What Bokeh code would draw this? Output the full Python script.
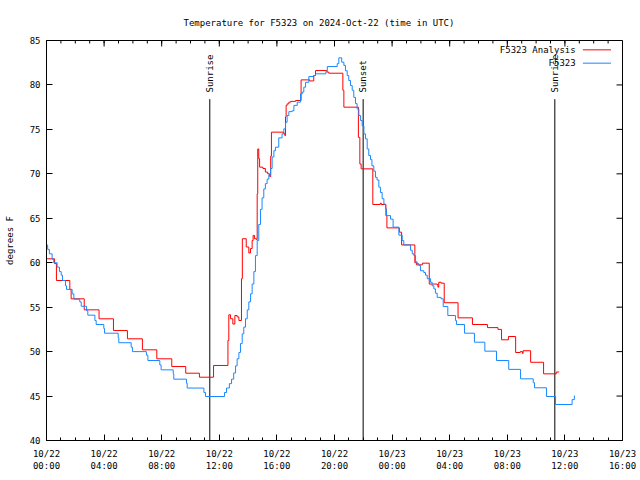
import numpy as np
from bokeh.plotting import figure
from bokeh.models import FixedTicker, Range1d
from bokeh.core.properties import value
from bokeh.embed import file_html
from bokeh.resources import INLINE

title_text = "Temperature for F5323 on 2024-Oct-22 (time in UTC)"
y_label = "degrees F"
series_names = ["F5323 Analysis", "F5323"]

# hours since 2024-10-22 00:00 UTC
obs_hours = [0.00, 0.08, 0.20, 0.39, 0.50, 0.74, 0.90, 1.02, 1.11, 1.32, 1.39, 1.78, 1.90, 2.31, 2.41,
             2.78, 2.87, 3.36, 3.45, 3.98, 4.03, 4.98, 5.02, 5.88, 5.97, 6.94, 7.04, 7.87, 7.96, 8.80,
             8.84, 9.72, 9.77, 10.93, 11.04, 12.36, 12.50, 12.70, 12.85, 13.00, 13.13, 13.24, 13.36,
             13.47, 13.59, 13.70, 13.82, 13.94, 14.05, 14.17, 14.28, 14.40, 14.51, 14.63, 14.74, 14.86,
             14.97, 15.09, 15.20, 15.32, 15.44, 15.56, 15.67, 15.79, 15.90, 16.13, 16.36, 16.48, 16.60,
             16.71, 16.83, 17.06, 17.18, 17.41, 17.64, 17.76, 17.87, 17.99, 18.22, 18.56, 18.68, 19.40,
             19.50, 20.19, 20.30, 20.50, 20.65, 20.76, 20.88, 20.99, 21.11, 21.23, 21.34, 21.46, 21.57,
             21.69, 21.81, 21.92, 22.04, 22.15, 22.27, 22.38, 22.50, 22.60, 22.73, 22.85, 22.96, 23.08,
             23.19, 23.31, 23.43, 23.54, 23.61, 23.89, 24.07, 24.47, 24.70, 24.81, 25.28, 25.40, 25.51,
             25.63, 25.74, 25.86, 25.97, 26.20, 26.32, 26.44, 26.67, 26.78, 26.90, 27.01, 27.13, 27.40,
             27.55, 27.87, 28.40, 28.47, 29.03, 29.72, 30.44, 31.25, 32.10, 32.92, 33.80, 33.89, 34.72,
             35.35, 36.50, 36.66]
obs_temp = [62.0, 61.5, 61.0, 60.4, 60.0, 59.5, 59.0, 58.6, 58.0, 57.4, 57.0, 56.5, 55.9, 55.6, 55.1,
            54.6, 54.1, 53.5, 53.05, 52.6, 52.07, 51.55, 51.0, 50.5, 50.0, 49.6, 49.0, 48.5, 47.95, 47.5,
            46.9, 46.45, 45.9, 45.4, 44.95, 45.4, 45.9, 46.4, 46.9, 47.6, 48.4, 49.2, 49.9,
            50.9, 52.0, 52.75, 53.7, 54.7, 55.6, 56.5, 57.6, 59.0, 60.8, 62.5, 64.3, 66.0,
            67.3, 68.3, 68.9, 69.4, 69.9, 70.6, 71.9, 72.6, 73.0, 74.05, 74.5, 75.06, 75.8,
            76.56, 77.0, 77.1, 77.7, 78.06, 79.0, 79.2, 79.75, 80.3, 80.95, 81.06, 81.25, 81.5,
            82.07, 82.4, 83.05, 82.56, 82.2, 81.6, 81.06, 80.5, 79.94, 79.4, 78.6, 77.9, 77.3,
            76.56, 76.0, 75.4, 74.5, 73.94, 72.8, 72.06, 71.6, 70.9, 70.3, 69.6, 69.3, 68.5,
            67.9, 67.2, 66.6, 66.06, 65.3, 64.9, 64.0, 63.1, 62.5, 62.0, 61.4, 61.0, 60.8,
            60.1, 59.9, 59.7, 59.1, 58.9, 58.6, 58.2, 57.8, 57.4, 57.06, 56.57, 56.1, 55.94,
            55.07, 54.06, 53.5, 53.05, 52.07, 51.06, 50.05, 49.0, 48.0, 46.94, 46.5, 45.93, 44.95,
            44.05, 44.6, 45.06]

ana_hours = [0.00, 0.56, 0.69, 1.62, 1.71, 2.62, 3.65, 4.65, 5.62, 6.66, 7.66, 8.70, 9.67, 10.62, 11.60,
             12.60, 12.66, 12.78, 12.94, 13.08, 13.24, 13.36, 13.54, 13.60, 13.87, 14.05, 14.17, 14.28,
             14.35, 14.44, 14.58, 14.63, 14.67, 14.74, 14.80, 15.03, 15.20, 15.36, 15.50, 15.57, 15.62,
             16.48, 16.55, 16.60, 16.64, 16.71, 16.83, 16.95, 17.30, 17.68, 18.28, 18.56, 18.68, 19.45,
             19.60, 20.58, 20.65, 21.66, 21.76, 21.85, 22.66, 23.18, 23.25, 23.57, 23.64, 24.50, 24.66,
             25.58, 25.70, 26.10, 26.58, 27.12, 27.18, 27.24, 27.40, 27.62, 28.58, 29.58, 30.62, 31.35,
             31.60, 32.08, 32.58, 32.90, 33.05, 33.10, 33.62, 34.52, 35.40, 35.58]
ana_temp = [60.44, 59.9, 58.0, 57.0, 55.94, 54.7, 53.69, 52.37, 51.44, 50.2, 49.19, 48.32, 47.57, 47.12, 48.44,
            51.25, 54.14, 53.7, 53.1, 54.06, 53.9, 53.5, 58.2, 62.7, 61.77, 61.1, 61.6, 62.5,
            63.07, 62.7, 62.6, 67.75, 72.8, 71.7, 70.75, 70.6, 70.2, 70.0, 69.7, 72.0, 74.69,
            74.5, 74.3, 76.4, 77.69, 77.87, 78.06, 78.15, 78.25, 80.57, 80.45, 81.06, 81.62, 81.45,
            81.32, 79.4, 77.5, 74.1, 71.1, 70.56, 66.55, 66.7, 66.55, 65.3, 63.92, 63.44, 62.0,
            60.0, 59.76, 59.95, 57.6, 57.55, 57.25, 57.8, 57.7, 55.5, 53.8, 53.05, 52.7, 52.5,
            51.33, 51.7, 49.9, 50.0, 49.8, 50.1, 48.8, 47.5, 47.7, 47.75]

sun_event_hours = [11.34, 21.99, 35.30]
sun_event_labels = ["Sunrise", "Sunset", "Sunrise"]

x_tick_hours = [0, 4, 8, 12, 16, 20, 24, 28, 32, 36, 40]
x_tick_labels = ["10/22\n00:00", "10/22\n04:00", "10/22\n08:00", "10/22\n12:00", "10/22\n16:00",
                 "10/22\n20:00", "10/23\n00:00", "10/23\n04:00", "10/23\n08:00", "10/23\n12:00",
                 "10/23\n16:00"]
y_ticks = [40, 45, 50, 55, 60, 65, 70, 75, 80, 85]

# ---- style ----
FONT = "DejaVu Sans Mono"
FS = "9px"
RED = "#ff0000"
BLUE = "#1a88ff"
X0, X1 = 0, 40
Y0, Y1 = 40, 85
minor_x = list(range(X0, X1 + 1))

p = figure(width=640, height=480, x_range=Range1d(X0, X1), y_range=Range1d(Y0, Y1),
           output_backend="svg", toolbar_location=None,
           min_border_left=46, min_border_right=18, min_border_top=40, min_border_bottom=40)
p.background_fill_color = "white"
p.border_fill_color = "white"
p.outline_line_color = "black"
p.grid.visible = False

p.title.text = title_text
p.title.align = "left"
p.title.offset = 137
p.title.standoff = 26
p.title.text_font = FONT
p.title.text_font_size = FS
p.title.text_font_style = "normal"
p.title.text_color = "black"

for ax in (p.xaxis[0], p.yaxis[0]):
    ax.major_label_text_font = FONT
    ax.major_label_text_font_size = FS
    ax.major_label_text_color = "black"
    ax.major_tick_in = 6
    ax.major_tick_out = 0
    ax.minor_tick_in = 3
    ax.minor_tick_out = 0
    ax.axis_line_color = "black"
    ax.major_tick_line_color = "black"
    ax.minor_tick_line_color = "black"

p.xaxis.ticker = FixedTicker(ticks=x_tick_hours, minor_ticks=minor_x)
p.xaxis.major_label_overrides = {t: l for t, l in zip(x_tick_hours, x_tick_labels)}
p.xaxis.major_label_standoff = 8
p.yaxis.ticker = FixedTicker(ticks=y_ticks)
p.yaxis.minor_tick_line_color = None
p.yaxis.major_label_standoff = 6
p.yaxis.axis_label = y_label
p.yaxis.axis_label_text_font = FONT
p.yaxis.axis_label_text_font_size = FS
p.yaxis.axis_label_text_font_style = "normal"
p.yaxis.axis_label_text_color = "black"
p.yaxis.axis_label_standoff = 12

# mirrored ticks on top and right edges (inward, fixed pixel length)
nx, nm, ny = len(x_tick_hours), len(minor_x), len(y_ticks)
p.ray(x=x_tick_hours, y=[Y1] * nx, length=6, length_units="screen", angle=-np.pi / 2,
      line_color="black", line_width=1)
p.ray(x=minor_x, y=[Y1] * nm, length=3, length_units="screen", angle=-np.pi / 2,
      line_color="black", line_width=1)
p.ray(x=[X1] * ny, y=y_ticks, length=6, length_units="screen", angle=np.pi,
      line_color="black", line_width=1)

# sunrise / sunset markers
n = len(sun_event_hours)
p.segment(x0=sun_event_hours, y0=[Y0] * n, x1=sun_event_hours, y1=[78.4] * n,
          line_color="black", line_width=1)
p.text(x=sun_event_hours, y=[79.15] * n, text=sun_event_labels, angle=np.pi / 2,
       text_align="left", text_baseline="middle", text_font=value(FONT),
       text_font_size=FS, text_color="black")

# series
p.step(ana_hours, ana_temp, mode="after", line_color=RED, line_width=1)
p.step(obs_hours, obs_temp, mode="after", line_color=BLUE, line_width=1)

# legend (gnuplot style: label left, sample right)
leg_y = [83.95, 82.45]
p.text(x=[36.75, 36.75], y=leg_y, text=series_names, text_align="right", text_baseline="middle",
       text_font=value(FONT), text_font_size=FS, text_color="black")
p.segment(x0=[37.25, 37.25], y0=leg_y, x1=[39.2, 39.2], y1=leg_y,
          line_color=[RED, BLUE], line_width=1)

open("out.html", "w").write(file_html(p, INLINE))
